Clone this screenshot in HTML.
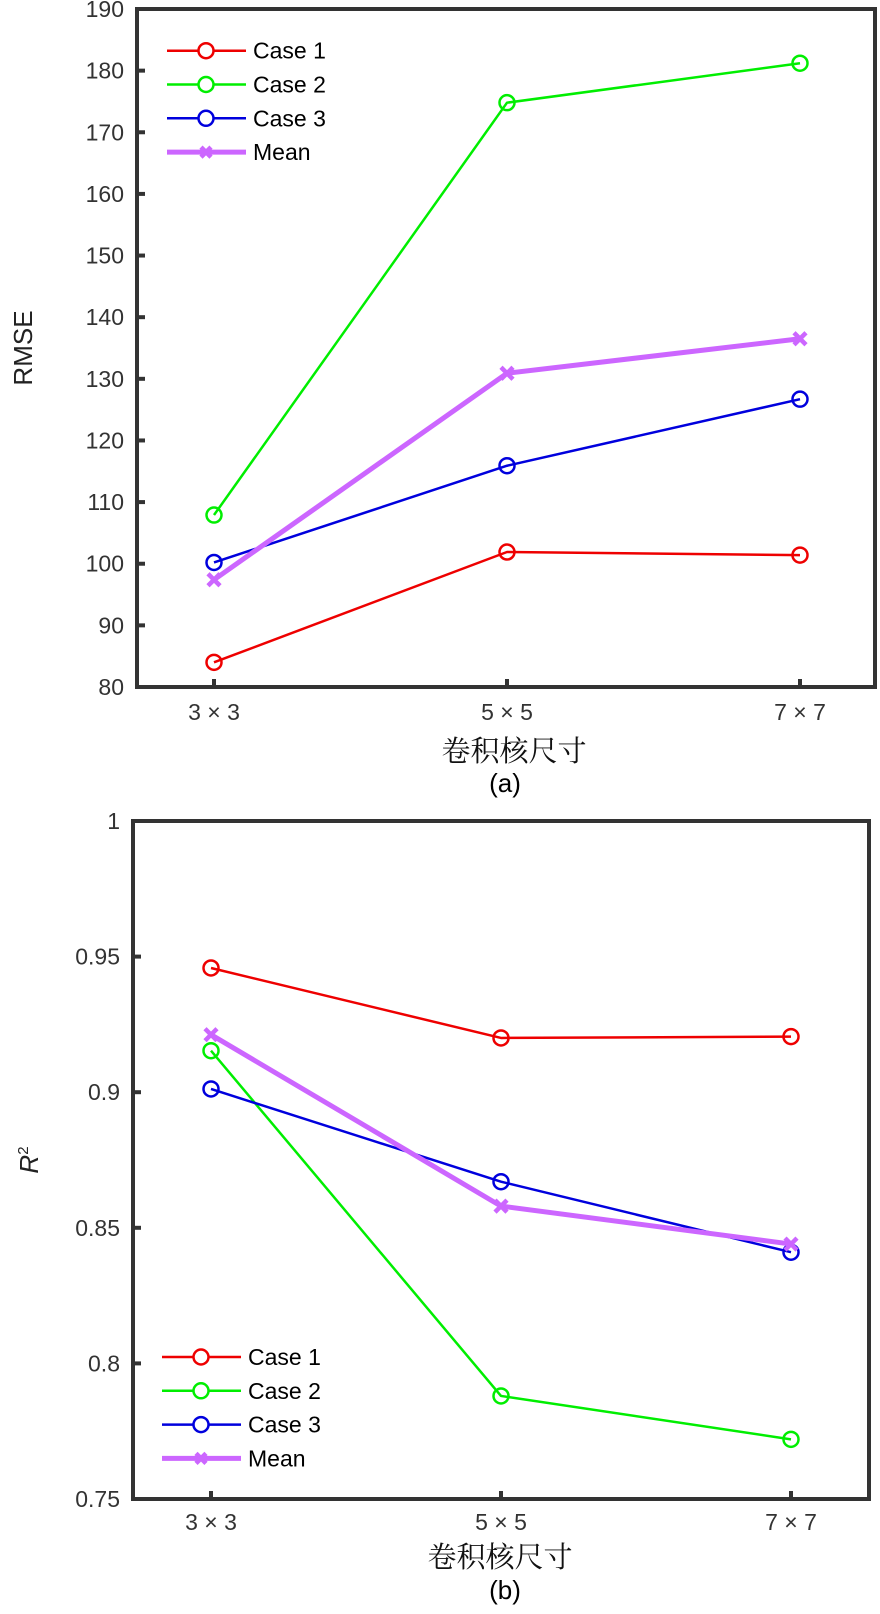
<!DOCTYPE html>
<html><head><meta charset="utf-8"><style>
html,body{margin:0;padding:0;background:#fff;}
svg{display:block;font-family:"Liberation Sans","Noto Sans CJK SC",sans-serif;}
</style></head><body>
<svg id="root" width="880" height="1614" viewBox="0 0 880 1614"></svg>
<script>
const categories = ["3×3","5×5","7×7"];
const seriesNames = ["Case 1","Case 2","Case 3","Mean"];
const seriesColors = ["#ee0000","#00ee00","#0000dd","#cc66ff"];
const rmseCase1 = [84.0, 101.9, 101.4];
const rmseCase2 = [107.9, 174.8, 181.2];
const rmseCase3 = [100.2, 115.9, 126.7];
const rmseMean = [97.4, 130.9, 136.5];
const rmseTicks = [80,90,100,110,120,130,140,150,160,170,180,190];
const r2Case1 = [0.9458, 0.920, 0.9205];
const r2Case2 = [0.9153, 0.788, 0.772];
const r2Case3 = [0.9012, 0.867, 0.841];
const r2Mean = [0.9212, 0.858, 0.844];
const r2Ticks = [0.75,0.8,0.85,0.9,0.95,1];
const r2TickLabels = ["0.75","0.8","0.85","0.9","0.95","1"];

const NS="http://www.w3.org/2000/svg";
const root=document.getElementById('root');
function mk(tag,attrs,parent){const e=document.createElementNS(NS,tag);for(const k in attrs)e.setAttribute(k,attrs[k]);(parent||root).appendChild(e);return e;}

function drawChart(cfg){
  const g=mk('g',{});
  
  
  const {L,R,T,B,ymin,ymax,xpos}=cfg;
  const ys=v=>B-(v-ymin)/(ymax-ymin)*(B-T);
  const xs=i=>xpos[0]+i*(xpos[1]-xpos[0]);
  const box=mk('rect',{x:L,y:T,width:R-L,height:B-T,fill:'none',stroke:'#333',"stroke-width":4},g);
  
  
  cfg.ticks.forEach((t,i)=>{
    const y=ys(t);
    const tk=mk('line',{x1:L,x2:L+8,y1:y,y2:y,stroke:'#333',"stroke-width":4},g);
    
    
    const tx=mk('text',{x:L-13,y:y+8,"text-anchor":"end","font-size":23,fill:'#333'},g);
    tx.textContent=cfg.tickLabels?cfg.tickLabels[i]:String(t);
    
    
  });
  categories.forEach((c,i)=>{
    const x=xs(i);
    const tk=mk('line',{x1:x,x2:x,y1:B,y2:B-8,stroke:'#333',"stroke-width":4},g);
    
    
    const tx=mk('text',{x:x,y:B+cfg.tickOff,"text-anchor":"middle","font-size":23,fill:'#333'},g);
    tx.textContent=c.replace('×',' × ');
    
    
  });
  cfg.series.forEach((vals,si)=>{
    const col=seriesColors[si];
    const isMean=si===3;
    const pts=vals.map((v,i)=>xs(i)+','+ys(v)).join(' ');
    const pl=mk('polyline',{points:pts,fill:'none',stroke:col,"stroke-width":isMean?5:2.5,"stroke-linejoin":"round"},g);
    
    
    vals.forEach((v,i)=>{
      const x=xs(i),y=ys(v);
      if(isMean){
        const m=mk('path',{d:`M${x-6},${y-6}L${x+6},${y+6}M${x-6},${y+6}L${x+6},${y-6}`,stroke:col,"stroke-width":4.5},g);
        
        
      } else {
        const m=mk('circle',{cx:x,cy:y,r:7.5,fill:'none',stroke:col,"stroke-width":2.5},g);
        
        
      }
    });
  });
  const lg=mk('g',{},g);
  
  
  seriesNames.forEach((n,si)=>{
    const y=cfg.legY+si*33.8;
    const col=seriesColors[si];
    const isMean=si===3;
    const e=mk('g',{},lg);
    
    
    mk('line',{x1:cfg.legX,x2:cfg.legX+79,y1:y,y2:y,stroke:col,"stroke-width":isMean?5:2.5},e);
    const mx=cfg.legX+39;
    if(isMean){mk('path',{d:`M${mx-5},${y-5}L${mx+5},${y+5}M${mx-5},${y+5}L${mx+5},${y-5}`,stroke:col,"stroke-width":4.5},e);}
    else mk('circle',{cx:mx,cy:y,r:7.5,fill:'#fff',stroke:col,"stroke-width":2.5},e);
    const t=mk('text',{x:cfg.legX+86,y:y+8,"font-size":23,fill:'#000'},e);
    t.textContent=n;
  });
  const xl=mk('text',{x:cfg.xlX,y:B+cfg.xlOff,"text-anchor":"middle","font-size":29,fill:'#111',"font-family":"'Noto Serif CJK SC','Noto Sans CJK SC',serif"},g);
  xl.textContent='卷积核尺寸';
  
  
  const cap=mk('text',{x:505,y:B+cfg.capOff,"text-anchor":"middle","font-size":26,fill:'#000'},g);
  cap.textContent=cfg.caption;
  
  
  return ys;
}

drawChart({name:'rmse-chart',L:137,R:875,T:9,B:687,ymin:80,ymax:190,xpos:[214,507],
  ticks:rmseTicks,series:[rmseCase1,rmseCase2,rmseCase3,rmseMean],legX:167,legY:50.7,caption:'(a)',
  tickOff:33,xlOff:74,capOff:105,xlX:514});
const yt=mk('text',{x:0,y:0,"text-anchor":"middle","font-size":26,fill:'#222',transform:'translate(32,348) rotate(-90)'});
yt.textContent='RMSE';



drawChart({name:'r2-chart',L:133,R:869,T:821,B:1499,ymin:0.75,ymax:1,xpos:[211,501],
  ticks:r2Ticks,tickLabels:r2TickLabels,series:[r2Case1,r2Case2,r2Case3,r2Mean],legX:162,legY:1357,caption:'(b)',
  tickOff:31,xlOff:68,capOff:100,xlX:500});
const rt=mk('text',{x:0,y:0,"text-anchor":"middle","font-size":26,fill:'#222',transform:'translate(38,1160) rotate(-90)'});


const ri=mk('tspan',{"font-style":"italic"},rt);ri.textContent='R';
const rs=mk('tspan',{"font-size":15,dy:-10},rt);rs.textContent='2';
</script>
</body></html>
